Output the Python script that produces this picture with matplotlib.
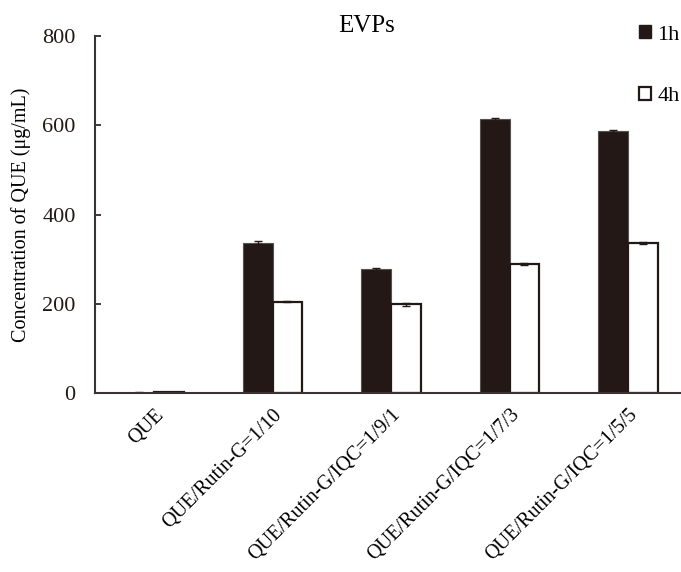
import numpy as np
import matplotlib.pyplot as plt
from matplotlib.patches import Patch

plt.rcParams["font.family"] = ["Liberation Serif", "DejaVu Serif"]

# data
groups = ["QUE", "QUE/Rutin-G=1/10", "QUE/Rutin-G/IQC=1/9/1",
          "QUE/Rutin-G/IQC=1/7/3", "QUE/Rutin-G/IQC=1/5/5"]
conc_1h = [1, 337, 278, 613, 586]
conc_4h = [2, 205, 199, 289, 337]
err_1h = [0.5, 3, 3, 3, 3]
err_4h = [0.5, 2, 3, 3, 2]

dark = "#231815"

fig = plt.figure(figsize=(6.81, 5.72), dpi=100)
ax = fig.add_axes([95 / 681, 179 / 572, 586 / 681, 357 / 572])

x = np.arange(len(groups))
w = 0.25
ax.bar(x - w / 2, conc_1h, w, color=dark, edgecolor="#555050", linewidth=0.8,
       yerr=err_1h, capsize=3, error_kw=dict(ecolor=dark, elinewidth=1, capthick=1))
ax.bar(x + w / 2, conc_4h, w, color="white", edgecolor=dark, linewidth=1.6,
       yerr=err_4h, capsize=3, error_kw=dict(ecolor=dark, elinewidth=1, capthick=1))

ax.set_xlim(-0.5, 4.448)
ax.set_ylim(0, 800)
ax.set_yticks([0, 200, 400, 600, 800])
ax.tick_params(axis="y", direction="in", length=4, width=1.2, colors=dark,
               labelsize=16, pad=14)
ax.tick_params(axis="x", length=0, labelsize=14.5, pad=9)
ax.set_xticks(x)
ax.set_xticklabels(groups, rotation=45, ha="right", rotation_mode="anchor")

for s in ["top", "right"]:
    ax.spines[s].set_visible(False)
for s in ["left", "bottom"]:
    ax.spines[s].set_color("#3a3333")
    ax.spines[s].set_linewidth(1.5)

ax.set_ylabel("Concentration of QUE (μg/mL)", fontsize=14.5, labelpad=8)
fig.text(367 / 681, 1 - 26 / 572, "EVPs", fontsize=18, ha="center", va="center")

handles = [Patch(facecolor=dark, edgecolor=dark, label="1h"),
           Patch(facecolor="white", edgecolor=dark, linewidth=1.6, label="4h")]
fig.legend(handles=handles, loc="upper right", bbox_to_anchor=(1.014, 0.975),
           frameon=False, fontsize=16, handlelength=0.5, handleheight=0.5,
           handletextpad=0.3, labelspacing=1.9, borderaxespad=0.1)

fig.savefig("out.png", dpi=100)
